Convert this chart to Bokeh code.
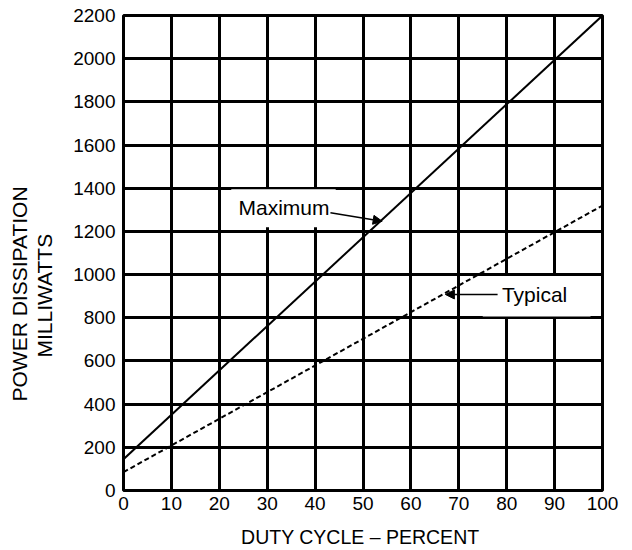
import math
from bokeh.plotting import figure
from bokeh.models import Range1d, Label, Arrow, NormalHead, BoxAnnotation, FixedTicker, Title
from bokeh.embed import file_html
from bokeh.resources import INLINE

# ---- data ----
duty_pct = [0, 100]
maximum_mw = [145, 2200]
typical_mw = [85, 1320]
x_ticks = [0, 10, 20, 30, 40, 50, 60, 70, 80, 90, 100]
y_ticks = [0, 200, 400, 600, 800, 1000, 1200, 1400, 1600, 1800, 2000, 2200]

FONT = "Liberation Sans"

p = figure(width=624, height=550, x_range=Range1d(0, 100), y_range=Range1d(0, 2200),
           output_backend="svg", toolbar_location=None,
           min_border_left=123, min_border_right=22, min_border_top=15, min_border_bottom=10)
p.background_fill_color = "white"
p.border_fill_color = "white"
p.outline_line_color = "black"
p.outline_line_width = 3

for ax in (p.xaxis[0], p.yaxis[0]):
    ax.axis_line_color = None
    ax.major_tick_line_color = None
    ax.minor_tick_line_color = None
    ax.major_tick_out = 0
    ax.major_tick_in = 0
    ax.major_label_text_font = FONT
    ax.major_label_text_font_size = "19px"
    ax.major_label_text_color = "black"

p.xaxis.ticker = FixedTicker(ticks=x_ticks)
p.yaxis.ticker = FixedTicker(ticks=y_ticks)
p.xaxis.major_label_standoff = 6
p.yaxis.major_label_standoff = 8
p.xaxis.axis_label = "DUTY CYCLE \u2013  PERCENT"
p.xaxis.axis_label_text_font = FONT
p.xaxis.axis_label_text_font_size = "19.5px"
p.xaxis.axis_label_text_font_style = "normal"
p.xaxis.axis_label_text_color = "black"
p.xaxis.axis_label_standoff = 13

# invisible spacer label to push the y titles away from the tick labels
p.yaxis.axis_label = " "
p.yaxis.axis_label_text_font_size = "1px"
p.yaxis.axis_label_standoff = 11

p.xgrid.ticker = FixedTicker(ticks=x_ticks)
p.ygrid.ticker = FixedTicker(ticks=y_ticks)
for g in (p.xgrid[0], p.ygrid[0]):
    g.grid_line_color = "black"
    g.grid_line_width = 3
    g.grid_line_alpha = 1.0

p.line(duty_pct, maximum_mw, line_color="black", line_width=2)
p.line(duty_pct, typical_mw, line_color="black", line_width=2, line_dash="5 3")

# white patches behind the annotation labels
p.add_layout(BoxAnnotation(left=22.5, right=44.3, bottom=1219, top=1395,
                           fill_color="white", fill_alpha=1, line_color=None))
p.add_layout(BoxAnnotation(left=75, right=97.5, bottom=806, top=994,
                           fill_color="white", fill_alpha=1, line_color=None))

p.add_layout(Label(x=43.0, y=1310, text="Maximum", text_align="right", text_baseline="middle",
                   text_font=FONT, text_font_size="21px", text_color="black"))
p.add_layout(Arrow(x_start=43.2, y_start=1286, x_end=54.0, y_end=1247,
                   line_color="black", line_width=1.5,
                   end=NormalHead(size=9, fill_color="black", line_color="black", line_width=1)))

p.add_layout(Label(x=79.0, y=908, text="Typical", text_align="left", text_baseline="middle",
                   text_font=FONT, text_font_size="21px", text_color="black"))
p.add_layout(Arrow(x_start=78.1, y_start=908, x_end=67.2, y_end=908,
                   line_color="black", line_width=1.5,
                   end=NormalHead(size=9, fill_color="black", line_color="black", line_width=1)))

# y-axis title, two lines
p.add_layout(Title(text="MILLIWATTS", align="left", offset=133, standoff=0,
                   text_font=FONT, text_font_size="21px", text_font_style="normal",
                   text_color="black"), "left")
p.add_layout(Title(text="POWER DISSIPATION", align="left", offset=89, standoff=0,
                   text_font=FONT, text_font_size="21px", text_font_style="normal",
                   text_color="black"), "left")

open("out.html", "w").write(file_html(p, INLINE))
